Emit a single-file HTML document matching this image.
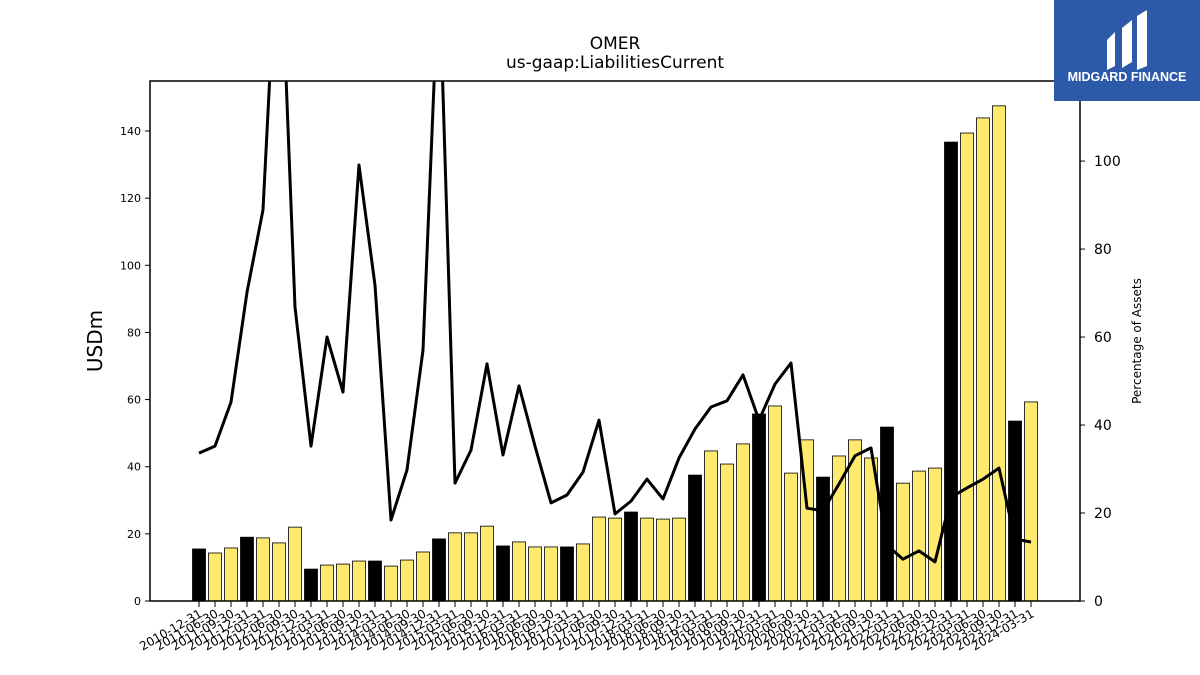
<!DOCTYPE html>
<html><head><meta charset="utf-8"><style>
body{margin:0;background:#fff;font-family:"Liberation Sans","DejaVu Sans",sans-serif}
svg{display:block}
</style></head><body>
<svg id="chart" width="1200" height="675" xmlns="http://www.w3.org/2000/svg">
<rect width="1200" height="675" fill="#fff"/>
<text x="615" y="49" text-anchor="middle" font-size="17" font-family="DejaVu Sans,sans-serif">OMER</text>
<text x="615" y="68" text-anchor="middle" font-size="17" font-family="DejaVu Sans,sans-serif">us-gaap:LiabilitiesCurrent</text>
<g id="bars"></g>
<g id="line"></g>
<rect x="150" y="81" width="930" height="520" fill="none" stroke="#000" stroke-width="1.5"/>
<g id="yticks"></g>
<g id="rticks"></g>
<g id="xticks"></g>
<text x="102" y="341" text-anchor="middle" font-size="20" font-family="DejaVu Sans,sans-serif" transform="rotate(-90 102 341)">USDm</text>
<text x="1141" y="341" text-anchor="middle" font-size="12" font-family="DejaVu Sans,sans-serif" transform="rotate(-90 1141 341)">Percentage of Assets</text>
<g>
<rect x="1054" y="0" width="146" height="101" fill="#2c5aa9"/>
<path d="M1107 40 L1115 32 L1115 66 L1107 70 Z M1122 28 L1132 20 L1132 62 L1122 68 Z M1137 16 L1147 10 L1147 66 L1137 70 Z" fill="#fff"/>
<text x="1127" y="81" text-anchor="middle" font-size="12.5" font-weight="bold" fill="#fff">MIDGARD FINANCE</text>
</g>
</svg>
<script>
const labels=["2010-12-31","2011-06-30","2011-09-30","2011-12-31","2012-03-31","2012-06-30","2012-09-30","2012-12-31","2013-03-31","2013-06-30","2013-09-30","2013-12-31","2014-03-31","2014-06-30","2014-09-30","2014-12-31","2015-03-31","2015-06-30","2015-09-30","2015-12-31","2016-03-31","2016-06-30","2016-09-30","2016-12-31","2017-03-31","2017-06-30","2017-09-30","2017-12-31","2018-03-31","2018-06-30","2018-09-30","2018-12-31","2019-03-31","2019-06-30","2019-09-30","2019-12-31","2020-03-31","2020-06-30","2020-09-30","2020-12-31","2021-03-31","2021-06-30","2021-09-30","2021-12-31","2022-03-31","2022-06-30","2022-09-30","2022-12-31","2023-03-31","2023-06-30","2023-09-30","2023-12-31","2024-03-31"];
const liabilities=[15.5,14.3,15.8,19,18.8,17.3,22,9.5,10.7,11,11.9,11.9,10.4,12.2,14.6,18.5,20.3,20.3,22.3,16.4,17.6,16.1,16.1,16.1,17,25,24.7,26.5,24.7,24.4,24.7,37.5,44.7,40.8,46.8,55.7,58.1,38.1,48,36.9,43.2,48,42.6,51.8,35.1,38.7,39.6,136.7,139.4,143.9,147.5,53.6,59.3];
const pctAssets=[33.6,35.2,45.2,70.2,88.9,160,66.8,35.2,60,47.5,99.1,71.8,18.4,29.8,57,145,26.8,34.3,53.9,33.2,48.9,35.2,22.3,24.1,29.3,41.1,19.8,22.7,27.7,23.2,32.5,39.1,44.1,45.5,51.4,41.1,49.3,54.1,21.1,20.5,26.6,33,34.8,12.7,9.5,11.4,8.9,23.6,25.7,27.7,30.2,14.1,13.4];
const leftTicks=[0,20,40,60,80,100,120,140];
const rightTicks=[0,20,40,60,80,100];
const NS="http://www.w3.org/2000/svg";
const X0=150,X1=1080,Y0=601,Y1=81,LMAX=154.9,RMAX=118.2;
const step=(X1-X0)/(labels.length+0.8);
const xs=i=>199+i*16;
const yl=v=>Y0-v/LMAX*(Y0-Y1);
const yr=v=>Y0-v/RMAX*(Y0-Y1);
function mk(t,a,p){const e=document.createElementNS(NS,t);for(const k in a)e.setAttribute(k,a[k]);p.appendChild(e);return e;}
const bars=document.getElementById('bars');
liabilities.forEach((v,i)=>{
 const e=mk('rect',{x:xs(i)-6.5,y:yl(v),width:13,height:Y0-yl(v),fill:labels[i].endsWith('12-31')?'#000':'#ffea70',stroke:'#000','stroke-width':0.8},bars);
 
 
});
const lg=document.getElementById('line');
const cp=mk('clipPath',{id:'cp'},lg);mk('rect',{x:X0,y:Y1,width:X1-X0,height:Y0-Y1},cp);
const pl=mk('polyline',{points:pctAssets.map((v,i)=>xs(i)+','+yr(v)).join(' '),fill:'none',stroke:'#000','stroke-width':3,'clip-path':'url(#cp)','stroke-linejoin':'round'},lg);


const yt=document.getElementById('yticks');
leftTicks.forEach(v=>{
 mk('line',{x1:X0-5,x2:X0,y1:yl(v),y2:yl(v),stroke:'#000'},yt);
 const t=mk('text',{x:X0-9,y:yl(v)+4,'text-anchor':'end','font-size':11,'font-family':'DejaVu Sans,sans-serif'},yt);t.textContent=v;
 
 
});
const rt=document.getElementById('rticks');
rightTicks.forEach(v=>{
 mk('line',{x1:X1,x2:X1+5,y1:yr(v),y2:yr(v),stroke:'#000'},rt);
 const t=mk('text',{x:X1+14,y:yr(v)+5,'font-size':14,'font-family':'DejaVu Sans,sans-serif'},rt);t.textContent=v;
 
 
});
const xt=document.getElementById('xticks');
labels.forEach((l,i)=>{
 mk('line',{x1:xs(i),x2:xs(i),y1:Y0,y2:Y0+6,stroke:'#000'},xt);
 const x=xs(i)+4,y=Y0+15;
 const t=mk('text',{x:x,y:y,'text-anchor':'end','font-size':12,'font-family':'DejaVu Sans,sans-serif',transform:'rotate(-30 '+x+' '+y+')'},xt);t.textContent=l;
 
 
});
</script>
</body></html>
